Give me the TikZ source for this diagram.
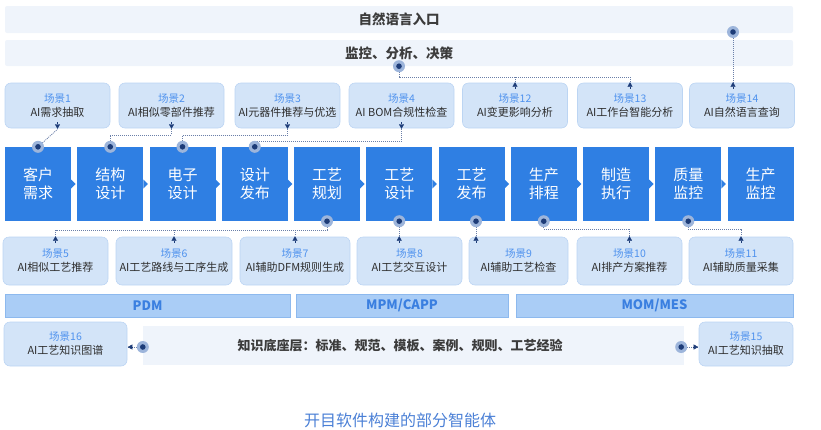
\documentclass[tikz,border=0pt]{standalone}
\usepackage{fontspec}
\setmainfont{Noto Sans CJK SC}
\usetikzlibrary{arrows.meta}
\definecolor{pblue}{HTML}{2F7FE3}
\definecolor{sfill}{HTML}{D3E4F8}
\definecolor{sdraw}{HTML}{BCD5F3}
\definecolor{slabel}{HTML}{4F92EE}
\definecolor{barfill}{HTML}{EFF4FB}
\definecolor{bartext}{HTML}{3C3C3C}
\definecolor{platfill}{HTML}{AACDF6}
\definecolor{platdraw}{HTML}{8DB9EE}
\definecolor{plattext}{HTML}{3A7FE0}
\definecolor{navy}{HTML}{1D3C78}
\definecolor{halo}{HTML}{9DB5DB}
\definecolor{linec}{HTML}{6A7FA8}
\definecolor{captc}{HTML}{4B80D6}
\newcommand{\scnl}[2]{{\color{slabel}\fontsize{10.5}{13}\selectfont 场景#1}\\[1pt]#2}
\newcommand{\srcdot}[1]{\fill[halo] (#1) circle (6pt); \fill[navy] (#1) circle (2.8pt);}
\begin{document}
\begin{tikzpicture}[x=1pt,y=-1pt,
 proc/.style={fill=pblue, text=white, minimum width=66pt, minimum height=74pt, inner sep=0pt, align=center, font=\fontsize{15}{18}\selectfont},
 scen/.style={fill=sfill, draw=sdraw, line width=0.6pt, rounded corners=6pt, inner sep=0pt, align=center, text=black!82, font=\fontsize{11}{13}\selectfont},
 topbar/.style={fill=barfill, rounded corners=2pt, inner sep=0pt, text=bartext, font=\fontsize{13.5}{15}\bfseries},
 plat/.style={fill=platfill, draw=platdraw, line width=0.6pt, inner sep=0pt, minimum height=23pt, text=plattext, font=\fontsize{13}{15}\bfseries},
 conn/.style={draw=linec, line width=0.8pt, dash pattern=on 1pt off 1pt},
 tip/.style={-{Triangle[length=4.5pt,width=5pt]}, navy},
]
\path[use as bounding box] (0,0) rectangle (821,429);

% top bars
\node[topbar, minimum width=788pt, minimum height=27pt] (bar1) at (399,19.5) {自然语言入口};
\node[topbar, minimum width=788pt, minimum height=26pt] (bar2) at (399,53) {监控、分析、决策};

% top scenarios
\foreach \n/\cx/\t in {s1/57.5/{\scnl{1}{AI需求抽取}}, s2/171.5/{\scnl{2}{AI相似零部件推荐}}, s3/287.5/{\scnl{3}{AI元器件推荐与优选}}, s4/401.5/{\scnl{4}{AI BOM合规性检查}}, s12/515/{\scnl{12}{AI变更影响分析}}, s13/630/{\scnl{13}{AI工作台智能分析}}, s14/742/{\scnl{14}{AI自然语言查询}}}
  \node[scen, minimum width=105pt, minimum height=45pt] (\n) at (\cx,105.5) {\t};

% process chain
\foreach \i/\t in {1/{客户\\需求}, 2/{结构\\设计}, 3/{电子\\设计}, 4/{设计\\发布}, 5/{工艺\\规划}, 6/{工艺\\设计}, 7/{工艺\\发布}, 8/{生产\\排程}, 9/{制造\\执行}, 10/{质量\\监控}, 11/{生产\\监控}}
  \node[proc] (p\i) at ({38+72.25*(\i-1)},184) {\t};
\foreach \i in {1,...,10}
  \fill[pblue] (p\i.east) ++(0,-4.5) -- ++(4.5,4.5) -- ++(-4.5,4.5) -- cycle;

% bottom scenarios
\node[scen, minimum width=105pt, minimum height=48pt] (s5) at (55.5,261) {\scnl{5}{AI相似工艺推荐}};
\node[scen, minimum width=116pt, minimum height=48pt] (s6) at (174,261) {\scnl{6}{AI工艺路线与工序生成}};
\node[scen, minimum width=110pt, minimum height=48pt] (s7) at (295,261) {\scnl{7}{AI辅助DFM规则生成}};
\node[scen, minimum width=105pt, minimum height=48pt] (s8) at (409.5,261) {\scnl{8}{AI工艺交互设计}};
\node[scen, minimum width=99pt, minimum height=48pt] (s9) at (518.5,261) {\scnl{9}{AI辅助工艺检查}};
\node[scen, minimum width=105pt, minimum height=48pt] (s10) at (629.5,261) {\scnl{10}{AI排产方案推荐}};
\node[scen, minimum width=104pt, minimum height=48pt] (s11) at (741,261) {\scnl{11}{AI辅助质量采集}};

% platforms
\node[plat, minimum width=285pt] (pdm) at (147.5,305.5) {PDM};
\node[plat, minimum width=212pt] (mpm) at (402,305.5) {MPM/CAPP};
\node[plat, minimum width=277pt] (mom) at (654.5,305.5) {MOM/MES};

% knowledge layer
\node[scen, minimum width=123pt, minimum height=44pt] (s16) at (65.5,344) {\scnl{16}{AI工艺知识图谱}};
\node[fill=barfill, minimum width=541pt, minimum height=39pt, inner sep=0pt] (know) at (413.5,345.5) {};
\node[text=bartext, font=\fontsize{13}{15}\bfseries, inner sep=0pt] (knowt) at (400,345.5) {知识底座层：标准、规范、模板、案例、规则、工艺经验};
\node[scen, minimum width=94pt, minimum height=44pt] (s15) at (746,344) {\scnl{15}{AI工艺知识抽取}};

% caption
\node[text=captc, font=\fontsize{16}{18}\selectfont, inner sep=0pt] (cap) at (400,420) {开目软件构建的部分智能体};

% level coordinates
\coordinate (lvA) at (0,135);
\coordinate (lvC) at (0,141);
\coordinate (lvM) at (0,77);
\coordinate (lvB) at (0,230);
\coordinate (lvD) at (0,229);
\coordinate (nlsrc) at (733,32);
\coordinate (p7src) at ([xshift=4.5pt]p7.south);
\coordinate (kl) at ([yshift=-1.5pt]know.west);
\coordinate (kr) at ([xshift=-3pt,yshift=-1.5pt]know.east);

% connectors top
\draw[conn] (p1.north) -- ([yshift=-1pt]s1.south);
\draw[conn] (p2.north) -- (p2.north |- lvA) -| ([yshift=-1pt]s2.south);
\draw[conn] (p3.north) -- (p3.north |- lvA) -| ([yshift=-1pt]s3.south);
\draw[conn] (p4.north) -- (p4.north |- lvC) -| ([yshift=-1pt]s4.south);
\draw[conn] (bar2.south) -- (bar2.south |- lvM) -| ([yshift=-1pt]s13.north);
\draw[conn] (s12.north |- lvM) -- ([yshift=-1pt]s12.north);
\draw[conn] (nlsrc) -- ([yshift=-1pt]nlsrc |- s14.north);
% connectors bottom
\draw[conn] (p5.south) -- (p5.south |- lvB) -| ([yshift=1pt]s5.north);
\draw[conn] (s6.north |- lvB) -- ([yshift=1pt]s6.north);
\draw[conn] (s7.north |- lvB) -- ([yshift=1pt]s7.north);
\draw[conn] (p6.south) -- ([yshift=1pt]p6.south |- s8.north);
\draw[conn] (p7src) -- ([yshift=1pt]p7src |- s9.north);
\draw[conn] (p8.south) -- (p8.south |- lvD) -| ([yshift=1pt]s10.north);
\draw[conn] (p10.south) -- (p10.south |- lvD) -| ([yshift=1pt]s11.north);
\draw[conn] (kl) -- ([xshift=1pt]kl -| s16.east);
\draw[conn] (kr) -- ([xshift=-1pt]kr -| s15.west);

% arrow tips
\foreach \a in {s1.south, s2.south, s3.south, s4.south}
  \draw[tip] ([yshift=6pt]\a) -- ([yshift=-0.5pt]\a);
\draw[tip] ([yshift=-6pt]s12.north) -- ([yshift=0.5pt]s12.north);
\draw[tip] ([yshift=-6pt]s13.north) -- ([yshift=0.5pt]s13.north);
\draw[tip] ([yshift=-6pt]nlsrc |- s14.north) -- ([yshift=0.5pt]nlsrc |- s14.north);
\foreach \a in {s5.north, s6.north, s7.north, s10.north, s11.north}
  \draw[tip] ([yshift=-6pt]\a) -- ([yshift=0.5pt]\a);
\draw[tip] ([yshift=-6pt]p6.south |- s8.north) -- ([yshift=0.5pt]p6.south |- s8.north);
\draw[tip] ([yshift=-6pt]p7src |- s9.north) -- ([yshift=0.5pt]p7src |- s9.north);
\draw[tip] ([xshift=6pt]kl -| s16.east) -- ([xshift=0.5pt]kl -| s16.east);
\draw[tip] ([xshift=-6pt]kr -| s15.west) -- ([xshift=-0.5pt]kr -| s15.west);

% source dots
\srcdot{p1.north} \srcdot{p2.north} \srcdot{p3.north} \srcdot{p4.north}
\srcdot{bar2.south} \srcdot{nlsrc}
\srcdot{p5.south} \srcdot{p6.south} \srcdot{p7src} \srcdot{p8.south} \srcdot{p10.south}
\srcdot{kl} \srcdot{kr}
\end{tikzpicture}
\end{document}
